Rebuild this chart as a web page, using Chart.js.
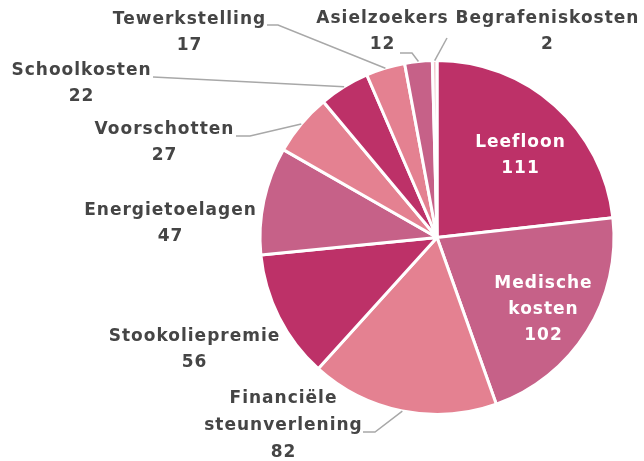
<!DOCTYPE html>
<html>
<head>
<meta charset="utf-8">
<script src="https://cdn.jsdelivr.net/npm/chart.js@4.4.0/dist/chart.umd.min.js"></script>
<style>
  html, body { margin: 0; padding: 0; background: #fff; }
  #wrap { width: 644px; height: 461px; }
</style>
</head>
<body>
<div id="wrap"><canvas id="pieChart"></canvas></div>
<script>
// data
const categorieen = [
  ["Leefloon"],
  ["Medische", "kosten"],
  ["Financiële", "steunverlening"],
  ["Stookoliepremie"],
  ["Energietoelagen"],
  ["Voorschotten"],
  ["Schoolkosten"],
  ["Tewerkstelling"],
  ["Asielzoekers"],
  ["Begrafeniskosten"]
];
const waarden = [111, 102, 82, 56, 47, 27, 22, 17, 12, 2];

const donker = "#bd3168";
const mauve = "#c66188";
const licht = "#e48191";
const kleuren = [donker, mauve, licht, donker, mauve, licht, donker, licht, mauve, "#f3c6cd"];

// label placement: text centre (x, y of first line), leader line points after the arc edge
const labelLayout = [
  { x: 520, y: 143, inside: true },
  { x: 543, y: 284, inside: true },
  { x: 283, y: 399, gap: 27, leader: [[375, 432], [363, 432]] },
  { x: 194, y: 337 },
  { x: 170, y: 211 },
  { x: 164, y: 130, leader: [[250, 136], [236, 136]] },
  { x: 81, y: 71, leader: [[153, 77]] },
  { x: 189, y: 20, leader: [[278, 25], [267, 25]] },
  { x: 382, y: 19, leader: [[412, 53], [400, 53]] },
  { x: 547, y: 19, leader: [[447, 38]] }
];

const labelPlugin = {
  id: "sliceLabels",
  afterDatasetsDraw(chart) {
    const ctx = chart.ctx;
    const meta = chart.getDatasetMeta(0);
    ctx.save();
    meta.data.forEach((arc, i) => {
      const lay = labelLayout[i];
      const p = arc.getProps(["x", "y", "startAngle", "endAngle", "outerRadius"], true);
      const mid = (p.startAngle + p.endAngle) / 2;
      if (lay.leader) {
        ctx.beginPath();
        ctx.strokeStyle = "#a8a8a8";
        ctx.lineWidth = 1.5;
        ctx.moveTo(p.x + Math.cos(mid) * p.outerRadius, p.y + Math.sin(mid) * p.outerRadius);
        lay.leader.forEach(pt => ctx.lineTo(pt[0], pt[1]));
        ctx.stroke();
      }
      const lines = categorieen[i].concat([String(waarden[i])]);
      const gap = lay.gap || 26;
      ctx.fillStyle = lay.inside ? "#ffffff" : "#454545";
      ctx.font = "bold 17px 'DejaVu Sans'";
      ctx.letterSpacing = "1px";
      ctx.textAlign = "center";
      ctx.textBaseline = "middle";
      lines.forEach((t, k) => ctx.fillText(t, lay.x + 0.5, lay.y + k * gap));
    });
    ctx.restore();
  }
};

const data = {
  labels: categorieen.map(c => c.join(" ")),
  datasets: [{
    data: waarden,
    backgroundColor: kleuren,
    borderColor: "#ffffff",
    borderWidth: 3
  }]
};

const ctx = document.getElementById("pieChart").getContext("2d");
const pieChart = new Chart(ctx, {
  type: "pie",
  data: data,
  options: {
    responsive: true,
    maintainAspectRatio: false,
    animation: false,
    radius: 177,
    layout: { padding: { top: 59, bottom: 45, left: 258, right: 28 } },
    plugins: {
      legend: { display: false },
      tooltip: { enabled: false }
    }
  },
  plugins: [labelPlugin]
});
</script>
</body>
</html>
